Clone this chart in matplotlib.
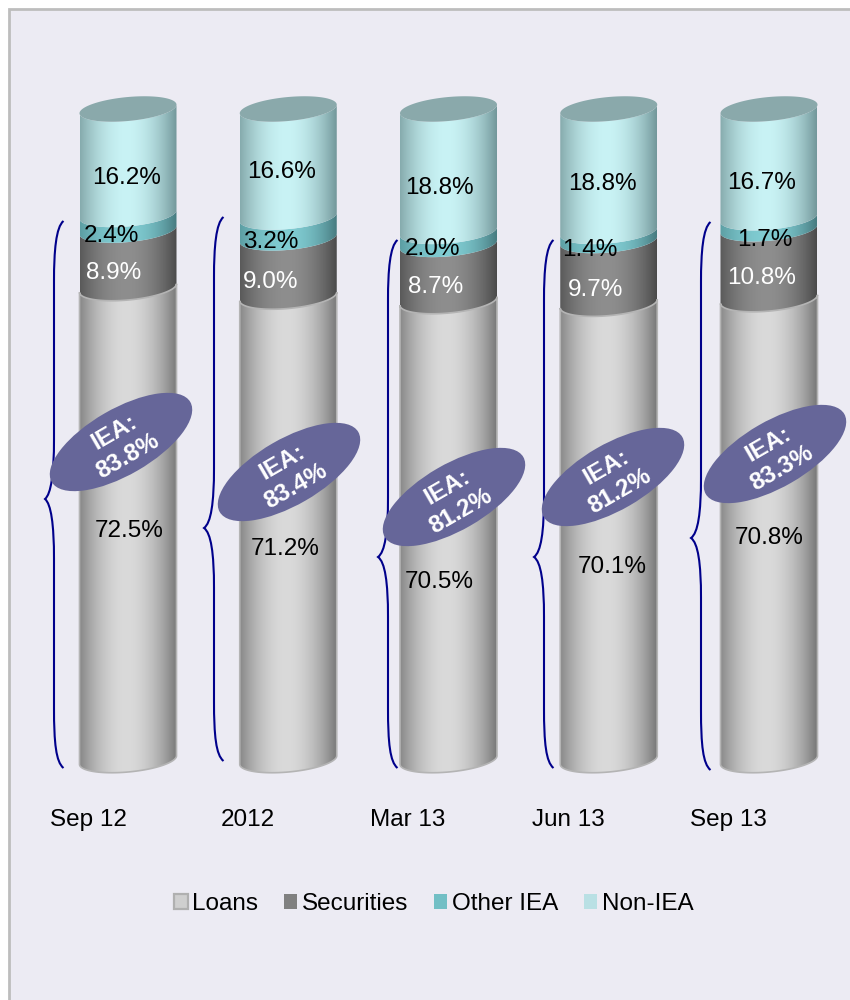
import numpy as np
import matplotlib
matplotlib.use("Agg")
import matplotlib.pyplot as plt
from matplotlib.colors import LinearSegmentedColormap
from matplotlib.patches import Ellipse, PathPatch, Polygon, Rectangle, Patch
from matplotlib.path import Path
from matplotlib.transforms import Affine2D

plt.rcParams["font.family"] = ["Liberation Sans", "DejaVu Sans"]

# Asset mix by reporting period, percent of total
periods = ["Sep 12", "2012", "Mar 13", "Jun 13", "Sep 13"]
loans = [72.5, 71.2, 70.5, 70.1, 70.8]
securities = [8.9, 9.0, 8.7, 9.7, 10.8]
other_iea = [2.4, 3.2, 2.0, 1.4, 1.7]
non_iea = [16.2, 16.6, 18.8, 18.8, 16.7]
iea_totals = [83.8, 83.4, 81.2, 81.2, 83.3]
series_names = ["Loans", "Securities", "Other IEA", "Non-IEA"]

# Canvas geometry, in pixels from the top left corner
W, H = 850, 1000
fig = plt.figure(figsize=(W / 100, H / 100), dpi=100, facecolor="white")
ax = fig.add_axes([0, 0, 1, 1])
ax.axis("off")
pixels = Affine2D().scale(1, -1).translate(0, H)

BG = "#ECEBF3"
LABEL_SIZE = 17.5
X0, X_STEP = 128, 160.25
BASE_PX, PX_PER_PCT = 760, 6.51
xlim = (-X0 / X_STEP, (W - X0) / X_STEP)
ylim = ((BASE_PX - H) / PX_PER_PCT, BASE_PX / PX_PER_PCT)

HALF_W = 48.5 / X_STEP
MINOR = 12 / PX_PER_PCT
SHEAR = (8.5 / 96) * X_STEP / PX_PER_PCT  # rise per category unit
theta = np.linspace(np.pi, 0, 80)


def front_arc(i, level):
    xs = HALF_W * np.cos(theta)
    return np.column_stack([i + xs, level - MINOR * np.sin(theta) + SHEAR * xs])


def back_arc(i, level):
    xs = HALF_W * np.cos(theta)
    return np.column_stack([i + xs, level + MINOR * np.sin(theta) + SHEAR * xs])


# Left edge, highlight, right edge of each segment's shading
ramps = [
    ["#888888", "#DADADA", "#787878"],
    ["#5A5A5A", "#8E8E8E", "#4A4A4A"],
    ["#5C9EA3", "#80CCD2", "#477B80"],
    ["#86ABAD", "#C9F3F5", "#72979A"],
]
cmaps = [LinearSegmentedColormap.from_list(n, r) for n, r in zip(series_names, ramps)]

# Smooth cylindrical falloff either side of a highlight just left of centre
u = np.linspace(0, 1, 400)
highlight = 0.48
offset = np.where(u < highlight, (u - highlight) / highlight, (u - highlight) / (1 - highlight))
gradient = (0.5 + 0.5 * np.sign(offset) * np.abs(offset) ** 1.9).reshape(1, -1)

# Page panel with its thin grey frame
ax.add_patch(Rectangle((9, 9), W, H, transform=pixels, fc=BG, ec="#BDBDBD", lw=2, zorder=0))

# Stacked cylinders
stack = [loans, securities, other_iea, non_iea]
for i in range(len(periods)):
    level = 0.0
    for s, values in enumerate(stack):
        top = level + values[i]
        outline = np.vstack([front_arc(i, level), front_arc(i, top)[::-1]])
        im = ax.imshow(gradient, cmap=cmaps[s], vmin=0, vmax=1, aspect="auto", zorder=2,
                       extent=(i - HALF_W, i + HALF_W, level - 5, top + 5))
        im.set_clip_path(Polygon(outline, transform=ax.transData))
        if s == 0:
            # pale rim round the loans segment
            ax.add_patch(Polygon(outline, closed=True, fill=False, ec="#B4B4B4", lw=1.2, zorder=3))
        level = top
    cap = np.vstack([front_arc(i, level), back_arc(i, level)[::-1]])
    ax.add_patch(Polygon(cap, closed=True, fc="#8AA9AB", ec="none", zorder=3))

# Curly braces spanning the interest earning share
brace_x = [54, 214, 388, 544, 701]
brace_tops = [221, 217, 240, 240, 222]
brace_bottoms = [768, 761, 768, 768, 770]
brace_tips = [(45, 499), (204, 528), (378, 557), (534, 557), (691, 538)]
for bx, y0, y1, (tx, ty) in zip(brace_x, brace_tops, brace_bottoms, brace_tips):
    ex = bx + 9.5
    verts = [
        (ex, y0), (bx + 2, y0 + 6), (bx, y0 + 30), (bx, y0 + 60),
        (bx, ty - 60),
        (bx, ty - 25), (bx - 3, ty - 5), (tx, ty),
        (bx - 3, ty + 5), (bx, ty + 25), (bx, ty + 60),
        (bx, y1 - 60),
        (bx, y1 - 25), (bx + 2, y1 - 6), (ex, y1),
    ]
    codes = [Path.MOVETO, Path.CURVE4, Path.CURVE4, Path.CURVE4, Path.LINETO,
             Path.CURVE4, Path.CURVE4, Path.CURVE4, Path.CURVE4, Path.CURVE4, Path.CURVE4,
             Path.LINETO, Path.CURVE4, Path.CURVE4, Path.CURVE4]
    ax.add_patch(PathPatch(Path(verts, codes), transform=pixels, fill=False,
                           ec="#00008B", lw=1.5, zorder=4))

# Tilted callouts with the interest earning totals
bubble_centres = [(121, 442), (289, 472), (454, 497), (613, 477), (775, 454)]
for (cx, cy), total in zip(bubble_centres, iea_totals):
    ax.add_patch(Ellipse((cx, cy), 160, 66, angle=-30, transform=pixels,
                         fc="#666699", ec="none", zorder=5))
    ax.text(cx, cy + 2, f"IEA:\n{total:.1f}%", transform=pixels, color="white",
            fontsize=LABEL_SIZE, fontweight="bold", rotation=30, rotation_mode="anchor",
            ha="center", va="center", linespacing=1.3, zorder=6)

# Share labels
loan_pos = [(129, 531), (285, 549), (439, 582), (612, 567), (769, 538)]
sec_pos = [(114, 273), (271, 282), (436, 287), (596, 290), (762, 278)]
other_pos = [(111, 236), (271, 242), (433, 249), (590, 250), (765, 240)]
non_pos = [(127, 178), (282, 172), (439, 188), (602, 184), (762, 183)]
for values, positions, colour in zip(stack, [loan_pos, sec_pos, other_pos, non_pos],
                                     ["black", "white", "black", "black"]):
    for v, (tx, ty) in zip(values, positions):
        ax.text(tx, ty, f"{v:.1f}%", transform=pixels, color=colour, fontsize=LABEL_SIZE,
                ha="center", va="center", zorder=4.5)

# Period labels under the cylinders
period_x = [88, 248, 408, 568, 728]
for name, tx in zip(periods, period_x):
    ax.text(tx, 820, name, transform=pixels, fontsize=LABEL_SIZE, ha="center", va="center", zorder=4)

ax.set_xlim(*xlim)
ax.set_ylim(*ylim)

# Legend row
handles = [
    Patch(fc="#CFCFCF", ec="#B0B0B0", lw=1.6, label=series_names[0]),
    Patch(fc="#808080", ec="none", label=series_names[1]),
    Patch(fc="#72BFC5", ec="none", label=series_names[2]),
    Patch(fc="#B9E0E4", ec="none", label=series_names[3]),
]
ax.legend(handles=handles, loc="center", bbox_to_anchor=(434 / W, 1 - 904 / H),
          bbox_transform=fig.transFigure, ncol=4, frameon=False, fontsize=LABEL_SIZE,
          handlelength=0.55, handleheight=0.55, handletextpad=0.2, columnspacing=1.05,
          borderpad=0, borderaxespad=0)

fig.savefig("out.png", dpi=100, facecolor="white")
